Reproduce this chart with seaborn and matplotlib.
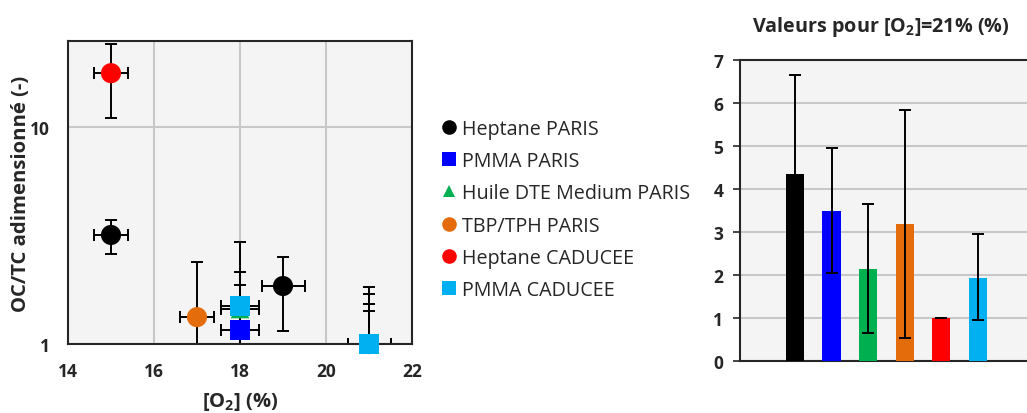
import numpy as np
import pandas as pd
import matplotlib
matplotlib.use("Agg")
import matplotlib.pyplot as plt
import seaborn as sns
from matplotlib.lines import Line2D
from matplotlib.collections import PathCollection
from matplotlib.ticker import FixedLocator, NullFormatter, FixedFormatter

sns.set_theme(style="white")
plt.rcParams["font.family"] = ["Open Sans", "DejaVu Sans"]
plt.rcParams["font.weight"] = "bold"
plt.rcParams["mathtext.fontset"] = "custom"
plt.rcParams["mathtext.bf"] = "Open Sans:bold"
plt.rcParams["mathtext.rm"] = "Open Sans:bold"
plt.rcParams["mathtext.default"] = "bf"

# ---------------- data ----------------
series = ["Heptane PARIS", "PMMA PARIS", "Huile DTE Medium PARIS",
          "TBP/TPH PARIS", "Heptane CADUCEE", "PMMA CADUCEE"]
colors = ["#000000", "#0000FF", "#00B050", "#E46C0A", "#FF0000", "#00B0F0"]
markers = ["o", "s", "^", "o", "o", "s"]

# left chart: O2 (%) , OC/TC adimensionné, errors
hep_paris_x = [15, 19, 21]
hep_paris_y = [3.18, 1.85, 1.0]
hep_paris_xerr = [0.4, 0.5, 0.5]
hep_paris_ylo = [2.6, 1.15, 0.47]
hep_paris_yhi = [3.73, 2.52, 1.53]

pmma_paris_x = [18, 21]
pmma_paris_y = [1.16, 1.0]
pmma_paris_xerr = [0.45, 0.5]
pmma_paris_ylo = [0.8, 0.58]
pmma_paris_yhi = [1.87, 1.42]

huile_x = [18, 21]
huile_y = [1.45, 1.0]
huile_xerr = [0.45, 0.5]
huile_ylo = [0.8, 0.29]
huile_yhi = [2.15, 1.70]

tbp_x = [17, 21]
tbp_y = [1.33, 1.0]
tbp_xerr = [0.4, 0.5]
tbp_ylo = [0.5, 0.17]
tbp_yhi = [2.39, 1.84]

hep_cad_x = [15, 21]
hep_cad_y = [17.7, 1.0]
hep_cad_xerr = [0.4, 0.5]
hep_cad_ylo = [11.0, 1.0]
hep_cad_yhi = [24.1, 1.0]

pmma_cad_x = [18, 21]
pmma_cad_y = [1.50, 1.0]
pmma_cad_xerr = [0.45, 0.5]
pmma_cad_ylo = [0.8, 0.49]
pmma_cad_yhi = [2.95, 1.53]

# right chart: values for [O2]=21 %
bar_values = [4.35, 3.48, 2.15, 3.18, 1.0, 1.94]
bar_err_lo = [2.3, 1.44, 1.51, 2.65, 0.0, 0.99]
bar_err_hi = [2.3, 1.47, 1.50, 2.66, 0.0, 1.02]

x_ticks = [14, 16, 18, 20, 22]
x_minor = [15, 17, 19, 21]
y_ticks = [1, 10]
y_minor = [2, 3, 4, 5, 6, 7, 8, 9, 20]
bar_ticks = [0, 1, 2, 3, 4, 5, 6, 7]

# ---------------- figure ----------------
fig = plt.figure(figsize=(10.27, 4.14), dpi=100)
ax = fig.add_axes([68 / 1027, 1 - 345 / 414, 344 / 1027, 303 / 414])
ax2 = fig.add_axes([740 / 1027, 1 - 362 / 414, 1 - 740 / 1027, 301 / 414])

bg = "#F4F4F4"
gridc = "#C8C8C8"
dark = "#262626"

all_data = [
    (hep_paris_x, hep_paris_y, hep_paris_xerr, hep_paris_ylo, hep_paris_yhi),
    (pmma_paris_x, pmma_paris_y, pmma_paris_xerr, pmma_paris_ylo, pmma_paris_yhi),
    (huile_x, huile_y, huile_xerr, huile_ylo, huile_yhi),
    (tbp_x, tbp_y, tbp_xerr, tbp_ylo, tbp_yhi),
    (hep_cad_x, hep_cad_y, hep_cad_xerr, hep_cad_ylo, hep_cad_yhi),
    (pmma_cad_x, pmma_cad_y, pmma_cad_xerr, pmma_cad_ylo, pmma_cad_yhi),
]

rows = []
for name, (xs, ys, xe, ylo, yhi) in zip(series, all_data):
    for i in range(len(xs)):
        rows.append(dict(serie=name, o2=xs[i], octc=ys[i], xerr=xe[i],
                         ylo=ys[i] - ylo[i], yhi=yhi[i] - ys[i]))
df = pd.DataFrame(rows)

ax.set_facecolor(bg)
ax.set_yscale("log")

# error bars (behind markers)
for name in series:
    d = df[df.serie == name]
    ax.errorbar(d.o2, d.octc, xerr=d.xerr, yerr=[d.ylo, d.yhi], fmt="none",
                ecolor="black", elinewidth=1.4, capsize=4, capthick=1.4, zorder=2)

# markers, drawn series by series (later series on top)
for name, c, m in zip(series, colors, markers):
    d = df[df.serie == name]
    sns.scatterplot(data=d, x="o2", y="octc", color=c, marker=m,
                    s=210 if m != "^" else 180, edgecolor="none",
                    ax=ax, zorder=3, legend=False)
for coll in ax.collections:
    if isinstance(coll, PathCollection):
        coll.set_clip_on(False)

ax.set_xlim(14, 22)
ax.set_ylim(1, 24.9)
ax.xaxis.set_major_locator(FixedLocator(x_ticks))
ax.xaxis.set_minor_locator(FixedLocator(x_minor))
ax.yaxis.set_major_locator(FixedLocator(y_ticks))
ax.yaxis.set_major_formatter(FixedFormatter([str(v) for v in y_ticks]))
ax.yaxis.set_minor_locator(FixedLocator(y_minor))
ax.yaxis.set_minor_formatter(NullFormatter())
ax.grid(True, which="major", color=gridc, linewidth=1.5, zorder=0)
ax.set_axisbelow(True)
ax.tick_params(axis="both", which="both", direction="out", length=5,
               width=1.2, color=dark, labelsize=12.5, pad=8)
ax.tick_params(axis="x", which="major", pad=8)
for s in ax.spines.values():
    s.set_color(dark)
    s.set_linewidth(1.5)
for lab in ax.get_xticklabels() + ax.get_yticklabels():
    lab.set_fontweight("bold")
ax.set_xlabel("[O$_2$] (%)", fontsize=14.5, fontweight="bold", labelpad=7)
ax.set_ylabel("OC/TC adimensionné (-)", fontsize=14.6, fontweight="bold", labelpad=-1)

# legend
handles = [Line2D([], [], linestyle="none", marker=m, color=c, markersize=10.5 if m != "^" else 9,
                  markeredgewidth=0) for c, m in zip(colors, markers)]
leg = fig.legend(handles, series, loc="upper left", bbox_to_anchor=(431 / 1027, 1 - 112 / 414),
                 frameon=False, handletextpad=0.15, labelspacing=0.62,
                 handlelength=1.0, borderaxespad=0, prop=dict(size=14.2, weight="normal"))
for t in leg.get_texts():
    t.set_color(dark)

# ---------------- right bar chart ----------------
ax2.set_facecolor(bg)
bdf = pd.DataFrame(dict(serie=series, val=bar_values))
sns.barplot(data=bdf, x="serie", y="val", hue="serie", palette=colors,
            width=0.5, legend=False, ax=ax2, zorder=3, edgecolor="none", saturation=1)
pos = np.arange(len(series))
ax2.errorbar(pos, bar_values, yerr=[bar_err_lo, bar_err_hi], fmt="none",
             ecolor="black", elinewidth=1.4, capsize=4, capthick=1.4, zorder=4)
ax2.set_xlim(-1.5, 6.34)
ax2.set_ylim(0, 7)
ax2.yaxis.set_major_locator(FixedLocator(bar_ticks))
ax2.set_xticks([])
ax2.grid(True, axis="y", color=gridc, linewidth=1.5, zorder=0)
ax2.set_axisbelow(True)
ax2.tick_params(axis="y", direction="out", length=5, width=1.2, color=dark,
                labelsize=12.5, left=True, pad=7)
for lab in ax2.get_yticklabels():
    lab.set_fontweight("bold")
ax2.set_xlabel("")
ax2.set_ylabel("")
for k, s in ax2.spines.items():
    s.set_color(dark)
    s.set_linewidth(1.5)
ax2.spines["right"].set_visible(False)
ax2.set_title("Valeurs pour [O$_2$]=21% (%)", fontsize=14.2, fontweight="bold", pad=21, x=0.49)

fig.savefig("out.png", dpi=100)
